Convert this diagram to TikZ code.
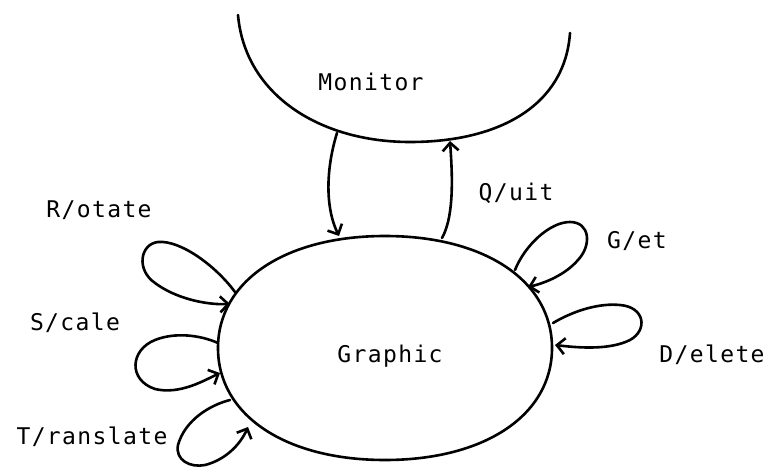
\documentclass[tikz,border=0pt]{standalone}
\usepackage{fontspec}
\newfontfamily\typefont[LetterSpace=6]{DejaVu Sans Mono}
\usetikzlibrary{arrows.meta}
\tikzset{
  lbl/.style={font=\typefont\fontsize{23}{23}\selectfont, inner sep=0pt, anchor=center},
  pen/.style={line width=2.6pt, line cap=round, line join=round},
  arr/.style={pen, -{Straight Barb[length=8pt,width=16pt,line width=2.6pt]}},
}
\begin{document}
\begin{tikzpicture}[x=1pt,y=-1pt]
\useasboundingbox (0,0) rectangle (770,470);
% Monitor (open arc)
\draw[pen] (238,15) .. controls (245,95) and (320,142) .. (410,142)
           .. controls (500,142) and (565,105) .. (570,33);
\node[lbl] (monitor) at (371,82) {Monitor};
% Graphic (hand-drawn ellipse)
\draw[pen] (552,348) .. controls (552,415) and (485,460) .. (385,460)
           .. controls (285,460) and (218,415) .. (218,348)
           .. controls (218,281) and (285,236) .. (385,236)
           .. controls (485,236) and (552,281) .. (552,348) -- cycle;
\node[lbl] (graphic) at (390,356) {Graphic};
% connection points
\coordinate (m1) at (337,133);
\coordinate (g1) at (339,236);
\coordinate (g2) at (442,238);
\coordinate (m2) at (450,141);
\coordinate (rs) at (235,292); \coordinate (re) at (230,304);
\coordinate (gs) at (515,270); \coordinate (ge) at (528,287);
\coordinate (ds) at (553,323); \coordinate (de) at (555,345);
\coordinate (ss) at (218,343); \coordinate (se) at (220,373);
\coordinate (ts) at (230,400); \coordinate (te) at (248,427);
% Monitor <-> Graphic
\draw[arr] (m1) .. controls (327,165) and (324,205) .. (g1);
\draw[arr] (g2) .. controls (455,215) and (452,170) .. (m2);
% loops
\draw[arr] (rs) .. controls (215,265) and (180,240) .. (158,242)
           .. controls (140,244) and (136,270) .. (155,283)
           .. controls (175,298) and (205,305) .. (re);
\draw[arr] (gs) .. controls (525,245) and (550,222) .. (570,222)
           .. controls (590,222) and (592,245) .. (578,260)
           .. controls (565,275) and (545,283) .. (ge);
\draw[arr] (ds) .. controls (575,310) and (600,303) .. (620,305)
           .. controls (645,307) and (648,330) .. (630,340)
           .. controls (610,350) and (580,348) .. (de);
\draw[arr] (ss) .. controls (200,335) and (175,332) .. (155,340)
           .. controls (130,350) and (128,380) .. (155,389)
           .. controls (180,395) and (205,380) .. (se);
\draw[arr] (ts) .. controls (210,405) and (185,420) .. (178,445)
           .. controls (175,460) and (190,468) .. (205,465)
           .. controls (225,460) and (240,445) .. (te);
% labels
\node[lbl] (quit) at (516,193) {Q/uit};
\node[lbl] (rotate) at (99,210) {R/otate};
\node[lbl] (get) at (637,241) {G/et};
\node[lbl] (scale) at (75,323) {S/cale};
\node[lbl] (delete) at (712,355) {D/elete};
\node[lbl] (translate) at (92,437) {T/ranslate};
\end{tikzpicture}
\end{document}
